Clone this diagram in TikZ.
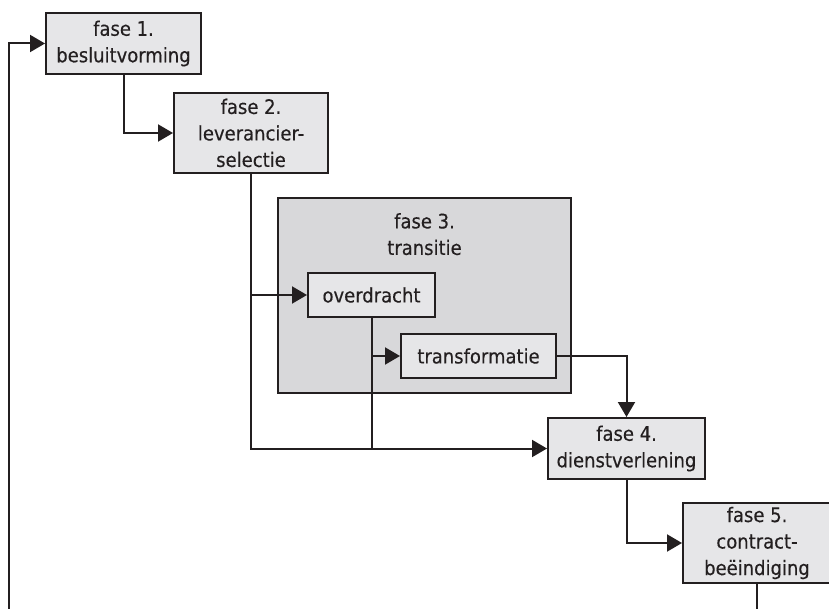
\documentclass[tikz,border=0pt]{standalone}
\usepackage{fontspec}
\setmainfont[FakeBold=0.3]{DejaVu Sans Condensed}
\usetikzlibrary{arrows.meta}
\definecolor{ink}{RGB}{35,31,32}
\definecolor{boxfill}{RGB}{230,230,232}
\definecolor{bigfill}{RGB}{216,216,218}
\tikzset{
  phase/.style 2 args={draw=ink, fill=boxfill, line width=2pt, minimum width=#1, minimum height=#2,
    inner sep=0pt, align=center, font=\fontsize{20}{26.5}\selectfont, text=ink},
  bigphase/.style 2 args={phase={#1}{#2}, fill=bigfill},
  phasetext/.style={inner sep=0pt, align=center, font=\fontsize{20}{26.5}\selectfont, text=ink},
  conn/.style={draw=ink, line width=2pt, line join=miter, -{Triangle[length=15pt,width=17pt]}},
  plain/.style={draw=ink, line width=2pt, line join=miter}
}
\begin{document}
\begin{tikzpicture}[x=1pt,y=-1pt]
\clip (0,0) rectangle (829,609);
\fill[white] (0,0) rectangle (829,609);
% nodes
\node[phase={155pt}{61pt}] (f1) at (123.5,43.5) {fase 1.\\besluitvorming};
\node[phase={154pt}{80pt}] (f2) at (251,133) {fase 2.\\leverancier-\\selectie};
\node[bigphase={293pt}{195pt}] (f3) at (424.5,295.5) {};
\node[phasetext, anchor=north] (f3t) at (424.5,213) {fase 3.\\transitie};
\node[phase={127pt}{44pt}] (ov) at (371.5,295) {overdracht};
\node[phase={155pt}{44pt}] (tr) at (478.5,356) {transformatie};
\node[phase={157pt}{61pt}] (f4) at (626.5,448.5) {fase 4.\\dienstverlening};
\node[phase={148pt}{80pt}] (f5) at (757,543) {fase 5.\\contract-\\beëindiging};
\coordinate (loopL) at (9,612);
\coordinate (loopR) at (f5.south |- loopL);
% connectors
\draw[conn] (loopL) |- (f1.west);
\draw[conn] (f1.south) |- (f2.west);
\draw[conn] (f2.south) |- (f4.west);
\draw[conn] (f2.south |- ov.west) -- (ov.west);
\draw[plain] (ov.south) -- (ov.south |- f4.west);
\draw[conn] (ov.south |- tr.west) -- (tr.west);
\draw[conn] (tr.east) -| (f4.north);
\draw[conn] (f4.south) |- (f5.west);
\draw[plain] (f5.south) -- (loopR);
\end{tikzpicture}
\end{document}
